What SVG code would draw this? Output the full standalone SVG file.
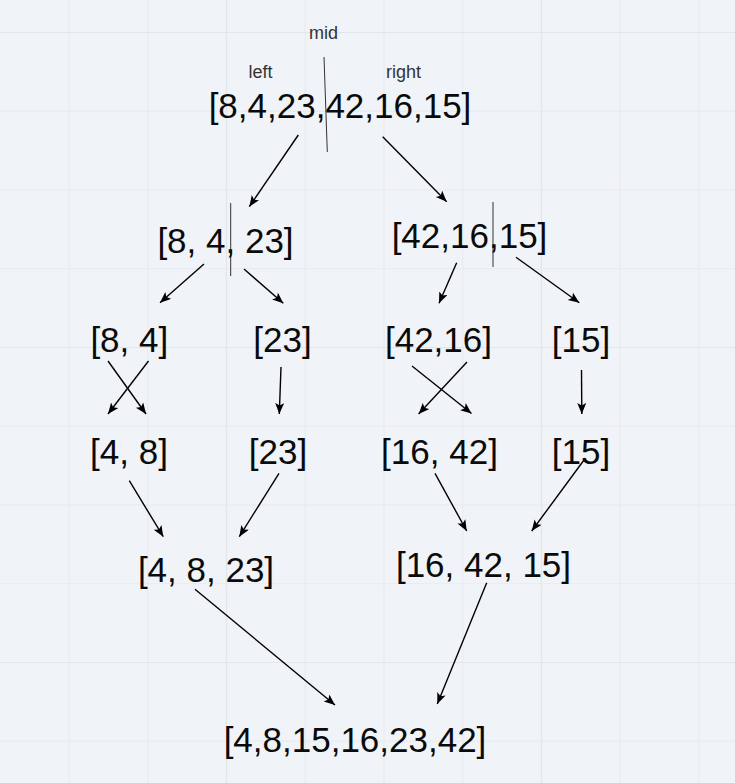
<svg xmlns="http://www.w3.org/2000/svg" width="735" height="783" viewBox="0 0 735 783">
<style>
.bg{fill:#f0f3f7}
.g{stroke:#e7eaee;stroke-width:1}
.gm{stroke:#e2e5ea;stroke-width:1.2}
.t{font-family:"Liberation Sans",Arial,sans-serif;font-size:35px;fill:#0a0a0a;text-anchor:middle}
.l{font-family:"Liberation Sans",Arial,sans-serif;font-size:18px;fill:#333;text-anchor:middle}
.e{stroke:#000;stroke-width:1.4;fill:none;marker-end:url(#ah)}
.d{stroke:#333;stroke-width:1;fill:none}
</style>
<defs>
<marker id="ah" markerUnits="userSpaceOnUse" markerWidth="12" markerHeight="10" refX="11" refY="4.5" orient="auto">
<path d="M0,0 L11,4.5 L0,9 L2.5,4.5 z" fill="#000"/>
</marker>
</defs>
<rect class="bg" x="0" y="0" width="735" height="783"/>
<g id="grid">
<line class="g" x1="69" y1="0" x2="69" y2="783"/>
<line class="g" x1="147.75" y1="0" x2="147.75" y2="783"/>
<line class="gm" x1="226.5" y1="0" x2="226.5" y2="783"/>
<line class="g" x1="305.25" y1="0" x2="305.25" y2="783"/>
<line class="g" x1="384" y1="0" x2="384" y2="783"/>
<line class="g" x1="462.75" y1="0" x2="462.75" y2="783"/>
<line class="gm" x1="541.5" y1="0" x2="541.5" y2="783"/>
<line class="g" x1="620.25" y1="0" x2="620.25" y2="783"/>
<line class="g" x1="699" y1="0" x2="699" y2="783"/>
<line class="gm" x1="0" y1="32.5" x2="735" y2="32.5"/>
<line class="g" x1="0" y1="111.25" x2="735" y2="111.25"/>
<line class="g" x1="0" y1="190" x2="735" y2="190"/>
<line class="g" x1="0" y1="268.75" x2="735" y2="268.75"/>
<line class="gm" x1="0" y1="347.5" x2="735" y2="347.5"/>
<line class="g" x1="0" y1="426.25" x2="735" y2="426.25"/>
<line class="g" x1="0" y1="505" x2="735" y2="505"/>
<line class="g" x1="0" y1="583.75" x2="735" y2="583.75"/>
<line class="gm" x1="0" y1="662.5" x2="735" y2="662.5"/>
<line class="g" x1="0" y1="741.25" x2="735" y2="741.25"/>
</g>
<g id="labels">
<text class="l" x="323.5" y="39">mid</text>
<text class="l" x="260.5" y="78">left</text>
<text class="l" x="403.5" y="78">right</text>
<line class="d" x1="324" y1="57" x2="327.3" y2="152"/>
<line class="d" x1="230.7" y1="203" x2="230.7" y2="276"/>
<line class="d" x1="493" y1="202" x2="493" y2="267"/>
</g>
<g id="n0"><text class="t" x="340" y="118">[8,4,23,42,16,15]</text></g>
<g id="n1"><text class="t" x="225.5" y="253">[8, 4, 23]</text></g>
<g id="n2"><text class="t" x="469.5" y="248">[42,16,15]</text></g>
<g id="n3"><text class="t" x="129.3" y="352">[8, 4]</text></g>
<g id="n4"><text class="t" x="282.5" y="352">[23]</text></g>
<g id="n5"><text class="t" x="438.5" y="352">[42,16]</text></g>
<g id="n6"><text class="t" x="581" y="352">[15]</text></g>
<g id="n7"><text class="t" x="129" y="464">[4, 8]</text></g>
<g id="n8"><text class="t" x="278" y="464">[23]</text></g>
<g id="n9"><text class="t" x="439.5" y="464">[16, 42]</text></g>
<g id="n10"><text class="t" x="581" y="464">[15]</text></g>
<g id="n11"><text class="t" x="206" y="582">[4, 8, 23]</text></g>
<g id="n12"><text class="t" x="483.5" y="577">[16, 42, 15]</text></g>
<g id="n13"><text class="t" x="355" y="752">[4,8,15,16,23,42]</text></g>
<g id="connectors">
<line class="e" x1="298.3" y1="135" x2="249.3" y2="206.7"/>
<line class="e" x1="382.7" y1="136.7" x2="446.7" y2="201.7"/>
<line class="e" x1="204" y1="264" x2="160" y2="302.7"/>
<line class="e" x1="244" y1="269" x2="283.3" y2="303.3"/>
<line class="e" x1="456.7" y1="262.7" x2="439" y2="303.3"/>
<line class="e" x1="516" y1="257.3" x2="579.3" y2="302.7"/>
<line class="e" x1="108" y1="361" x2="146" y2="414"/>
<line class="e" x1="148.5" y1="361" x2="108" y2="414"/>
<line class="e" x1="281" y1="367" x2="279.3" y2="414"/>
<line class="e" x1="412" y1="366" x2="471.5" y2="413.5"/>
<line class="e" x1="467" y1="362" x2="418.6" y2="414"/>
<line class="e" x1="581.5" y1="370" x2="581.8" y2="414"/>
<line class="e" x1="129.3" y1="480.7" x2="163.3" y2="536.7"/>
<line class="e" x1="279" y1="473.3" x2="239.3" y2="536.7"/>
<line class="e" x1="435" y1="473.3" x2="466.7" y2="531"/>
<line class="e" x1="584" y1="460" x2="531.7" y2="531"/>
<line class="e" x1="195" y1="589.3" x2="335" y2="705"/>
<line class="e" x1="486.7" y1="582.7" x2="437.3" y2="704"/>
</g>
</svg>
